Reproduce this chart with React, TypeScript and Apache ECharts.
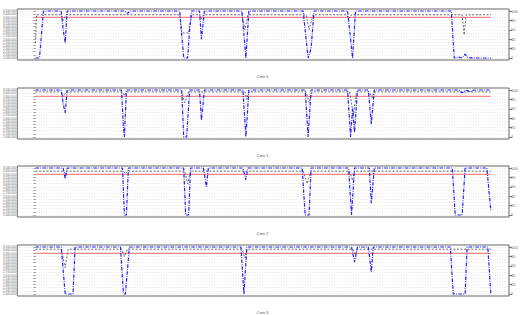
import React, { useEffect, useRef } from "react";
import * as echarts from "echarts";

const coreNames = ["Core 0", "Core 1", "Core 2", "Core 3"];
const pctTicks = [0, 20, 40, 60, 80, 100];
const freqTicks = [
  2000000, 2100000, 2200000, 2300000, 2400000, 2500000, 2600000, 2700000,
  2800000, 2900000, 3000000, 3100000, 3200000, 3300000, 3400000, 3500000,
];
const threshold = 3300000;
const sampleEnd = 461;

const core0Util = [
  [0, 0], [4, 0], [6, 50], [8, 100],
  [26, 100], [28, 60], [30, 32], [32, 100],
  [90, 100], [93, 95], [96, 100],
  [146, 100], [150, 0], [154, 0], [156, 60], [158, 100],
  [166, 100], [168, 40], [171, 100],
  [209, 100], [213, 0], [216, 100],
  [271, 100], [276, 0], [279, 20], [282, 100],
  [316, 100], [321, 0], [324, 100],
  [421, 100], [424, 0], [428, 2], [432, 0], [435, 8], [438, 1], [445, 0], [461, 0],
];
const core0Freq = [
  [0, 2480000], [1, 3380000],
  [26, 3380000], [28, 3200000], [31, 3380000],
  [146, 3380000], [148, 2800000], [155, 2800000], [158, 3380000],
  [166, 3380000], [168, 3250000], [170, 3380000],
  [209, 3380000], [212, 2900000], [215, 3380000],
  [274, 3380000], [277, 2900000], [281, 3380000],
  [315, 3380000], [317, 3250000], [320, 3380000],
  [432, 3380000], [434, 2740000], [436, 3380000], [461, 3380000],
];

const core1Util = [
  [0, 100], [26, 100], [28, 70], [30, 51], [32, 100],
  [87, 100], [89, 20], [90, 0], [92, 100],
  [148, 100], [150, 0], [153, 0], [156, 100],
  [166, 100], [168, 36], [171, 100],
  [210, 100], [213, 0], [216, 100],
  [273, 100], [276, 0], [279, 100],
  [316, 100], [319, 0], [321, 60], [323, 10], [326, 100],
  [337, 100], [340, 28], [343, 100],
  [428, 100], [432, 94], [436, 100], [440, 96], [444, 100], [461, 100],
];
const core1Freq = [
  [0, 3440000], [26, 3440000], [28, 3300000], [31, 3440000],
  [88, 3440000], [90, 3320000], [92, 3440000],
  [148, 3440000], [151, 3100000], [155, 3440000],
  [212, 3440000], [214, 3200000], [216, 3440000],
  [274, 3440000], [277, 3100000], [280, 3440000],
  [318, 3440000], [322, 2700000], [325, 3440000],
  [338, 3440000], [341, 3250000], [343, 3440000],
  [461, 3440000],
];

const core2Util = [
  [0, 100], [28, 100], [30, 77], [32, 100],
  [88, 100], [90, 0], [92, 0], [94, 100],
  [150, 100], [152, 0], [155, 0], [157, 100],
  [170, 100], [173, 60], [175, 100],
  [210, 100], [213, 75], [215, 100],
  [270, 100], [273, 0], [277, 0], [279, 100],
  [317, 100], [320, 0], [323, 100],
  [338, 100], [340, 25], [343, 100],
  [422, 100], [425, 0], [432, 0], [435, 100],
  [457, 100], [461, 10],
];
const core2Freq = [
  [0, 3400000], [28, 3400000], [30, 3330000], [32, 3400000],
  [89, 3400000], [91, 3320000], [93, 3400000],
  [151, 3400000], [154, 3000000], [157, 3400000],
  [271, 3400000], [275, 3000000], [279, 3400000],
  [318, 3400000], [321, 3100000], [323, 3400000],
  [461, 3400000],
];

const core3Util = [
  [0, 100], [26, 100], [30, 0], [38, 0], [40, 100],
  [86, 100], [89, 0], [91, 0], [95, 100],
  [208, 100], [211, 0], [214, 100],
  [320, 100], [323, 68], [326, 100],
  [337, 100], [340, 47], [342, 100],
  [420, 100], [423, 0], [435, 0], [437, 100],
  [458, 100], [461, 0],
];
const core3Freq = [
  [0, 3430000], [26, 3430000], [30, 2840000], [33, 3430000],
  [87, 3430000], [90, 3200000], [93, 3430000],
  [209, 3430000], [212, 3150000], [214, 3430000],
  [321, 3430000], [324, 3250000], [326, 3430000],
  [461, 3430000],
];

const utilSeries = [core0Util, core1Util, core2Util, core3Util];
const freqSeries = [core0Freq, core1Freq, core2Freq, core3Freq];

const panelTops = [9, 88, 166, 245];
const panelH = 51;
const font = "Liberation Sans, Arial, sans-serif";

export default function App() {
  const ref = useRef<HTMLDivElement>(null);
  useEffect(() => {
    if (!ref.current) return;
    const chart = echarts.init(ref.current, undefined, { renderer: "svg" });
    const pad = 0.043;
    const fMin = freqTicks[0];
    const fMax = freqTicks[freqTicks.length - 1];
    const fSpan = fMax - fMin;
    const grids: any[] = [];
    const xAxes: any[] = [];
    const yAxes: any[] = [];
    const series: any[] = [];
    const titles: any[] = [];
    coreNames.forEach((name, i) => {
      grids.push({
        left: 15,
        width: 494,
        top: panelTops[i],
        height: panelH,
        show: true,
        borderColor: "#666",
        borderWidth: 1,
        backgroundColor: "transparent",
      });
      xAxes.push({
        type: "value",
        gridIndex: i,
        min: -sampleEnd * 0.04,
        max: sampleEnd * 1.04,
        show: false,
      });
      yAxes.push({
        type: "value",
        gridIndex: i,
        position: "left",
        min: fMin - fSpan * pad,
        max: fMax + fSpan * pad,
        axisLine: { show: false },
        splitLine: { show: false },
        axisTick: {
          show: true,
          customValues: freqTicks,
          length: 2,
          lineStyle: { color: "#555", width: 0.8 },
        },
        axisLabel: {
          show: true,
          customValues: freqTicks,
          fontSize: 3,
          color: "#666",
          margin: 1,
          fontFamily: font,
        },
      });
      yAxes.push({
        type: "value",
        gridIndex: i,
        position: "right",
        min: -100 * pad,
        max: 100 + 100 * pad,
        axisLine: { show: false },
        splitLine: { show: false },
        axisTick: {
          show: true,
          customValues: pctTicks,
          length: 3,
          lineStyle: { color: "#555", width: 0.8 },
        },
        axisLabel: {
          show: true,
          customValues: pctTicks,
          fontSize: 4,
          color: "#666",
          margin: 2,
          fontFamily: font,
        },
      });
      titles.push({
        text: name,
        left: "center",
        top: panelTops[i] + panelH + 14,
        padding: 0,
        textStyle: { fontSize: 4, color: "#555", fontWeight: "normal", fontFamily: font },
      });
      series.push({
        type: "line",
        xAxisIndex: i,
        yAxisIndex: 2 * i,
        data: [[0, threshold], [sampleEnd, threshold]],
        symbol: "none",
        lineStyle: { color: "#f26a6a", width: 1 },
        z: 3,
        markLine: {
          silent: true,
          symbol: "none",
          label: { show: false },
          lineStyle: { color: "#d2d2d2", width: 0.6, type: [0.8, 1.6] },
          data: freqTicks.map((v) => ({ yAxis: v })),
          z: 1,
        },
      });
      series.push({
        type: "line",
        xAxisIndex: i,
        yAxisIndex: 2 * i,
        data: freqSeries[i],
        symbol: "none",
        lineStyle: { color: "#444", width: 0.8, type: [2, 1.6] },
        z: 4,
      });
      series.push({
        type: "line",
        xAxisIndex: i,
        yAxisIndex: 2 * i + 1,
        data: utilSeries[i],
        symbol: "none",
        lineStyle: { color: "#1f1fff", width: 1.2, type: [3.5, 1.3, 0.8, 1.3] },
        z: 5,
      });
    });
    chart.setOption({
      animation: false,
      backgroundColor: "#ffffff",
      title: titles,
      grid: grids,
      xAxis: xAxes,
      yAxis: yAxes,
      series,
    });
    return () => chart.dispose();
  }, []);
  return (
    <div
      ref={ref}
      style={{ position: "fixed", left: 0, top: 0, width: 525, height: 315, background: "#fff" }}
    />
  );
}
